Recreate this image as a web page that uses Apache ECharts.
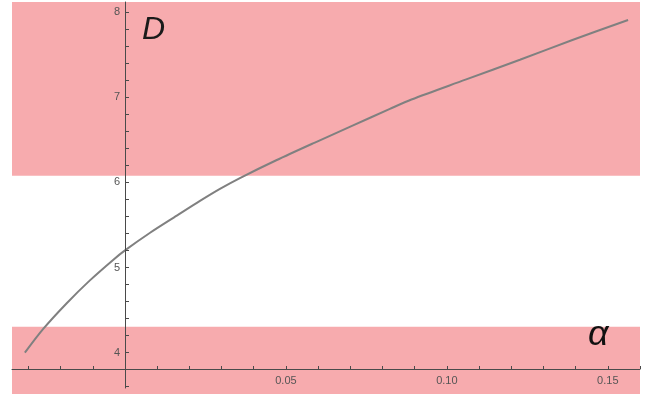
<!DOCTYPE html>
<html>
<head>
<meta charset="utf-8">
<script src="https://cdn.jsdelivr.net/npm/echarts@6/dist/echarts.min.js"></script>
<style>html,body{margin:0;padding:0;background:#fff}#c{width:650px;height:394px}</style>
</head>
<body>
<div id="c"></div>
<script>
// Data
const alpha = [-0.0311, -0.0254, -0.0181, -0.0109, -0.0036, 0, 0.0078, 0.0161, 0.0233, 0.0295, 0.0357, 0.0470, 0.0590, 0.0707, 0.0823, 0.0890, 0.1058, 0.1227, 0.1390, 0.1563];
const D = [4.0, 4.279, 4.581, 4.849, 5.092, 5.201, 5.408, 5.609, 5.782, 5.923, 6.050, 6.259, 6.467, 6.665, 6.862, 6.972, 7.205, 7.439, 7.671, 7.905];
const xTicks = [-0.03,-0.02,-0.01,0,0.01,0.02,0.03,0.04,0.05,0.06,0.07,0.08,0.09,0.10,0.11,0.12,0.13,0.14,0.15,0.16];
const xLabels = [0.05, 0.10, 0.15];
const yTicks = [3.6,3.8,4.0,4.2,4.4,4.6,4.8,5.0,5.2,5.4,5.6,5.8,6.0,6.2,6.4,6.6,6.8,7.0,7.2,7.4,7.6,7.8,8.0];
const yLabels = [4, 5, 6, 7, 8];
const bandTop = [6.077, 8.117];
const bandBottom = [3.515, 4.305];
const xRange = [-0.0351, 0.16];
const yRange = [3.515, 8.117];
const yAxisRange = [3.585, 8.117];

const chart = echarts.init(document.getElementById('c'), null, {renderer: 'canvas'});
const axisColor = '#4a4a4a';
const labelStyle = {color: '#555', fontFamily: 'Liberation Sans', fontSize: 11};
chart.setOption({
  animation: false,
  grid: [
    {left: 12, right: 10, top: 2, bottom: 0},
    {left: 12, right: 10, top: 300, bottom: 25},
    {left: 125, right: 10, top: 2, bottom: 6}
  ],
  xAxis: [
    {type: 'value', gridIndex: 0, min: xRange[0], max: xRange[1], show: false},
    {type: 'value', gridIndex: 1, min: xRange[0], max: xRange[1], position: 'bottom', z: 10,
     axisLine: {show: true, onZero: false, lineStyle: {color: axisColor, width: 1}},
     axisTick: {show: true, inside: true, length: 3, customValues: xTicks, lineStyle: {color: axisColor}},
     axisLabel: {show: true, customValues: xLabels, margin: 6, formatter: v => v.toFixed(2), ...labelStyle},
     splitLine: {show: false}},
    {type: 'value', gridIndex: 2, show: false}
  ],
  yAxis: [
    {type: 'value', gridIndex: 0, min: yRange[0], max: yRange[1], show: false},
    {type: 'value', gridIndex: 1, show: false},
    {type: 'value', gridIndex: 2, min: yAxisRange[0], max: yAxisRange[1], position: 'left', z: 10,
     axisLine: {show: true, onZero: false, lineStyle: {color: axisColor, width: 1}},
     axisTick: {show: true, inside: true, length: 4, customValues: yTicks, lineStyle: {color: axisColor}},
     axisLabel: {show: true, customValues: yLabels, margin: 5, formatter: v => String(Math.round(v)), ...labelStyle},
     splitLine: {show: false}}
  ],
  series: [{
    type: 'line',
    xAxisIndex: 0, yAxisIndex: 0,
    data: alpha.map((a, i) => [a, D[i]]),
    showSymbol: false,
    smooth: 0.3,
    lineStyle: {color: '#808080', width: 2},
    z: 5,
    markArea: {
      silent: true,
      itemStyle: {color: '#f7abae', opacity: 1},
      data: [
        [{yAxis: bandTop[0]}, {yAxis: bandTop[1]}],
        [{yAxis: bandBottom[0]}, {yAxis: bandBottom[1]}]
      ]
    }
  }],
  graphic: [
    {type: 'text', left: 142, top: 14, z: 20,
     style: {text: 'D', font: 'italic 32px "Liberation Sans"', fill: '#1a1a1a'}},
    {type: 'text', left: 588, top: 317, z: 20,
     style: {text: 'α', font: 'italic 36px "Liberation Sans"', fill: '#111'}}
  ]
});
</script>
</body>
</html>
